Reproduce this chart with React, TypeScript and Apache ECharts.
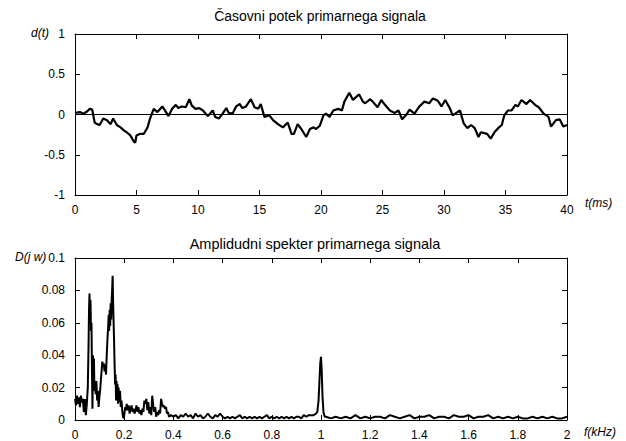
import React, { useEffect, useRef } from "react";
import * as echarts from "echarts";

const timeMs = [0, 0.4, 0.7, 1.0, 1.2, 1.4, 1.6, 1.8, 2.0, 2.3, 2.6, 2.9, 3.1, 3.4, 3.7, 4.0, 4.2, 4.5, 4.8, 4.9, 5.0, 5.3, 5.6, 5.9, 6.1, 6.4, 6.7, 7.1, 7.4, 7.6, 7.9, 8.2, 8.4, 8.7, 9.0, 9.3, 9.5, 9.8, 10.1, 10.4, 10.8, 11.2, 11.4, 11.7, 12.0, 12.3, 12.5, 12.8, 13.1, 13.4, 13.6, 13.9, 14.3, 14.6, 14.9, 15.1, 15.4, 15.8, 16.1, 16.5, 16.9, 17.3, 17.6, 17.8, 18.1, 18.4, 18.8, 19.1, 19.4, 19.6, 19.9, 20.2, 20.4, 20.7, 21.0, 21.4, 21.7, 21.9, 22.3, 22.6, 22.8, 23.1, 23.4, 23.6, 24.0, 24.2, 24.6, 24.9, 25.2, 25.6, 26.0, 26.3, 26.6, 26.95, 27.2, 27.6, 28.0, 28.4, 28.8, 29.1, 29.5, 29.8, 30.1, 30.5, 30.7, 31.0, 31.3, 31.6, 31.9, 32.2, 32.5, 32.8, 33.0, 33.5, 33.8, 34.1, 34.4, 34.7, 34.9, 35.2, 35.5, 35.8, 36.0, 36.3, 36.7, 37.0, 37.4, 37.7, 38.1, 38.5, 38.7, 39.1, 39.4, 39.7, 40.0];
const signal = [0.02, 0.03, 0.01, 0.04, 0.07, 0.06, -0.1, -0.12, -0.13, -0.05, -0.07, -0.12, -0.05, -0.13, -0.16, -0.2, -0.22, -0.26, -0.34, -0.35, -0.26, -0.24, -0.24, -0.16, -0.05, 0.07, 0.03, 0.1, 0.03, -0.02, 0.07, 0.12, 0.08, 0.1, 0.09, 0.19, 0.11, 0.07, 0.08, 0.05, -0.02, 0.05, -0.03, -0.05, 0.01, 0.08, 0.02, 0.01, 0.1, 0.13, 0.08, 0.1, 0.19, 0.09, 0.07, 0.13, -0.03, -0.01, -0.07, -0.12, -0.16, -0.1, -0.24, -0.24, -0.12, -0.18, -0.28, -0.18, -0.16, -0.18, -0.14, -0.01, 0.01, -0.03, 0.05, 0.07, 0.05, 0.16, 0.27, 0.18, 0.21, 0.25, 0.16, 0.14, 0.19, 0.16, 0.09, 0.18, 0.12, 0.05, 0.02, 0.05, -0.06, 0.0, 0.06, 0.01, 0.1, 0.16, 0.14, 0.2, 0.17, 0.1, 0.18, 0.07, -0.01, 0.02, 0.05, -0.11, -0.17, -0.13, -0.17, -0.28, -0.22, -0.24, -0.3, -0.22, -0.17, -0.13, -0.01, 0.05, 0.05, 0.12, 0.1, 0.18, 0.13, 0.18, 0.12, 0.09, 0.01, -0.03, -0.15, -0.07, -0.06, -0.15, -0.13];

const freqKHz = [
  0.000, 0.004, 0.008, 0.012, 0.016, 0.020, 0.024, 0.028, 0.032, 0.036,
  0.040, 0.044, 0.048, 0.052, 0.055, 0.057, 0.059, 0.061, 0.063, 0.065,
  0.067, 0.069, 0.071, 0.073, 0.075, 0.077, 0.079, 0.081, 0.084, 0.087,
  0.090, 0.093, 0.096, 0.099, 0.102, 0.105, 0.108, 0.111, 0.114, 0.117,
  0.120, 0.123, 0.126, 0.129, 0.132, 0.135, 0.137, 0.139, 0.141, 0.143,
  0.145, 0.147, 0.149, 0.151, 0.153, 0.155, 0.157, 0.159, 0.161, 0.163,
  0.165, 0.167, 0.169, 0.171, 0.173, 0.175, 0.177, 0.180, 0.183, 0.186,
  0.189, 0.192, 0.195, 0.198, 0.201, 0.204, 0.207, 0.210, 0.214, 0.218,
  0.222, 0.226, 0.230, 0.234, 0.238, 0.242, 0.246, 0.250, 0.254, 0.258,
  0.262, 0.266, 0.270, 0.274, 0.278, 0.282, 0.286, 0.290, 0.294, 0.298,
  0.302, 0.306, 0.310, 0.314, 0.318, 0.322, 0.326, 0.330, 0.334, 0.338,
  0.342, 0.346, 0.350, 0.354, 0.358, 0.362, 0.366, 0.370, 0.374, 0.378,
  0.382, 0.39, 0.40, 0.41, 0.42, 0.43, 0.44, 0.45, 0.46, 0.47,
  0.48, 0.49, 0.50, 0.51, 0.52, 0.53, 0.54, 0.55, 0.56, 0.57,
  0.58, 0.59, 0.60, 0.61, 0.62, 0.63, 0.64, 0.65, 0.66, 0.67,
  0.68, 0.69, 0.70, 0.71, 0.72, 0.73, 0.74, 0.75, 0.76, 0.77,
  0.78, 0.79, 0.80, 0.81, 0.82, 0.83, 0.84, 0.85, 0.86, 0.87,
  0.88, 0.89, 0.90, 0.91, 0.92, 0.93, 0.94, 0.95, 0.96, 0.97,
  0.98, 0.985, 0.99, 0.994, 0.997, 1.0, 1.003, 1.006, 1.01, 1.015,
  1.02, 1.04, 1.06, 1.08, 1.10, 1.12, 1.14, 1.16, 1.18, 1.20,
  1.22, 1.24, 1.26, 1.28, 1.30, 1.32, 1.34, 1.36, 1.38, 1.40,
  1.42, 1.44, 1.46, 1.48, 1.50, 1.52, 1.54, 1.56, 1.58, 1.60,
  1.62, 1.64, 1.66, 1.68, 1.70, 1.72, 1.74, 1.76, 1.78, 1.80,
  1.82, 1.84, 1.86, 1.88, 1.90, 1.92, 1.94, 1.96, 1.98, 2.00,
];
const amplitude = [
  0.013, 0.009, 0.015, 0.010, 0.014, 0.008, 0.015, 0.011, 0.013, 0.005,
  0.013, 0.003, 0.010, 0.020, 0.045, 0.068, 0.078, 0.062, 0.074, 0.055,
  0.060, 0.030, 0.007, 0.040, 0.020, 0.038, 0.018, 0.022, 0.016, 0.024,
  0.012, 0.018, 0.008, 0.014, 0.018, 0.024, 0.030, 0.036, 0.033, 0.035,
  0.030, 0.034, 0.028, 0.040, 0.050, 0.058, 0.065, 0.055, 0.068, 0.058,
  0.072, 0.062, 0.074, 0.080, 0.089, 0.072, 0.060, 0.048, 0.034, 0.022,
  0.028, 0.012, 0.024, 0.014, 0.022, 0.010, 0.020, 0.011, 0.018, 0.008,
  0.012, 0.006, 0.002, 0.001, 0.004, 0.008, 0.006, 0.010, 0.006, 0.009,
  0.004, 0.007, 0.009, 0.005, 0.007, 0.004, 0.006, 0.009, 0.005, 0.008,
  0.004, 0.006, 0.003, 0.007, 0.005, 0.012, 0.010, 0.013, 0.006, 0.011,
  0.004, 0.008, 0.003, 0.015, 0.009, 0.005, 0.008, 0.002, 0.005, 0.003,
  0.006, 0.004, 0.013, 0.010, 0.008, 0.009, 0.007, 0.008, 0.004, 0.005,
  0.002, 0.003, 0.002, 0.003, 0.001, 0.003, 0.002, 0.004, 0.002, 0.003,
  0.001, 0.004, 0.002, 0.003, 0.001, 0.002, 0.004, 0.002, 0.001, 0.003,
  0.002, 0.004, 0.002, 0.001, 0.002, 0.001, 0.002, 0.001, 0.002, 0.003,
  0.001, 0.002, 0.001, 0.002, 0.001, 0.002, 0.001, 0.002, 0.001, 0.002,
  0.003, 0.001, 0.002, 0.001, 0.002, 0.001, 0.002, 0.001, 0.002, 0.001,
  0.002, 0.001, 0.002, 0.002, 0.001, 0.003, 0.002, 0.003, 0.003, 0.003,
  0.004, 0.005, 0.012, 0.025, 0.035, 0.039, 0.030, 0.015, 0.005, 0.002,
  0.002, 0.001, 0.002, 0.001, 0.002, 0.001, 0.003, 0.001, 0.002, 0.001,
  0.002, 0.002, 0.001, 0.003, 0.002, 0.001, 0.002, 0.003, 0.001, 0.002,
  0.002, 0.003, 0.001, 0.002, 0.002, 0.001, 0.003, 0.002, 0.002, 0.003,
  0.001, 0.002, 0.002, 0.003, 0.001, 0.002, 0.001, 0.002, 0.001, 0.002,
  0.001, 0.001, 0.002, 0.001, 0.002, 0.001, 0.002, 0.001, 0.001, 0.002,
];

const topTitle = "Časovni potek primarnega signala";
const bottomTitle = "Amplidudni spekter primarnega signala";

const FONT = "Liberation Sans, Arial, sans-serif";

export default function App() {
  const ref = useRef<HTMLDivElement>(null);
  useEffect(() => {
    if (!ref.current) return;
    const chart = echarts.init(ref.current, undefined, { renderer: "svg" });
    const axisLine = { show: true, onZero: false, lineStyle: { color: "#000", width: 1 } };
    const tick = { show: true, inside: true, length: 5, lineStyle: { color: "#000", width: 1 } };
    const label = { color: "#000", fontSize: 12, fontFamily: FONT };
    const mkX = (gridIndex: number, min: number, max: number, interval: number, main: boolean) => ({
      type: "value", gridIndex, min, max, interval,
      position: main ? "bottom" : "top",
      axisLine, axisTick: tick,
      axisLabel: main ? { ...label, margin: 9 } : { show: false },
      splitLine: { show: false },
    });
    const mkY = (gridIndex: number, min: number, max: number, interval: number, main: boolean, fmt?: (v: number) => string) => ({
      type: "value", gridIndex, min, max, interval,
      position: main ? "left" : "right",
      axisLine, axisTick: tick,
      axisLabel: main ? { ...label, margin: 10, formatter: fmt } : { show: false },
      splitLine: { show: false },
    });
    chart.setOption({
      animation: false,
      backgroundColor: "#fff",
      grid: [
        { left: 75, top: 34, width: 492, height: 161 },
        { left: 75, top: 258, width: 492, height: 162 },
      ],
      xAxis: [
        mkX(0, 0, 40, 5, true),
        mkX(0, 0, 40, 5, false),
        mkX(1, 0, 2, 0.2, true),
        mkX(1, 0, 2, 0.2, false),
      ],
      yAxis: [
        mkY(0, -1, 1, 0.5, true),
        mkY(0, -1, 1, 0.5, false),
        mkY(1, 0, 0.1, 0.02, true, (v: number) => (v === 0 ? "0" : String(+v.toFixed(2)))),
        mkY(1, 0, 0.1, 0.02, false),
      ],
      series: [
        {
          type: "line", xAxisIndex: 0, yAxisIndex: 0, symbol: "none",
          data: [[0, 0], [40, 0]],
          lineStyle: { color: "#000", width: 1 },
        },
        {
          type: "line", xAxisIndex: 0, yAxisIndex: 0, symbol: "none",
          data: timeMs.map((t, i) => [t, signal[i]]),
          lineStyle: { color: "#000", width: 2.2 },
        },
        {
          type: "line", xAxisIndex: 2, yAxisIndex: 2, symbol: "none",
          data: freqKHz.map((f, i) => [f, amplitude[i]]),
          lineStyle: { color: "#000", width: 2 },
        },
      ],
      graphic: [
        { type: "text", x: 320, y: 9, style: { text: topTitle, fill: "#000", font: `14px ${FONT}`, align: "center" } },
        { type: "text", x: 315, y: 236, style: { text: bottomTitle, fill: "#000", font: `14.5px ${FONT}`, align: "center" } },
        { type: "text", x: 31, y: 27, style: { text: "d(t)", fill: "#000", font: `italic 12px ${FONT}` } },
        { type: "text", x: 585, y: 197, style: { text: "t(ms)", fill: "#000", font: `italic 12px ${FONT}` } },
        { type: "text", x: 15, y: 251, style: { text: "D(j w)", fill: "#000", font: `italic 12px ${FONT}` } },
        { type: "text", x: 584, y: 426, style: { text: "f(kHz)", fill: "#000", font: `italic 12px ${FONT}` } },
      ],
    });
    return () => chart.dispose();
  }, []);
  return (
    <div
      ref={ref}
      style={{ position: "fixed", left: 0, top: 0, width: 626, height: 441, background: "#fff" }}
    />
  );
}
